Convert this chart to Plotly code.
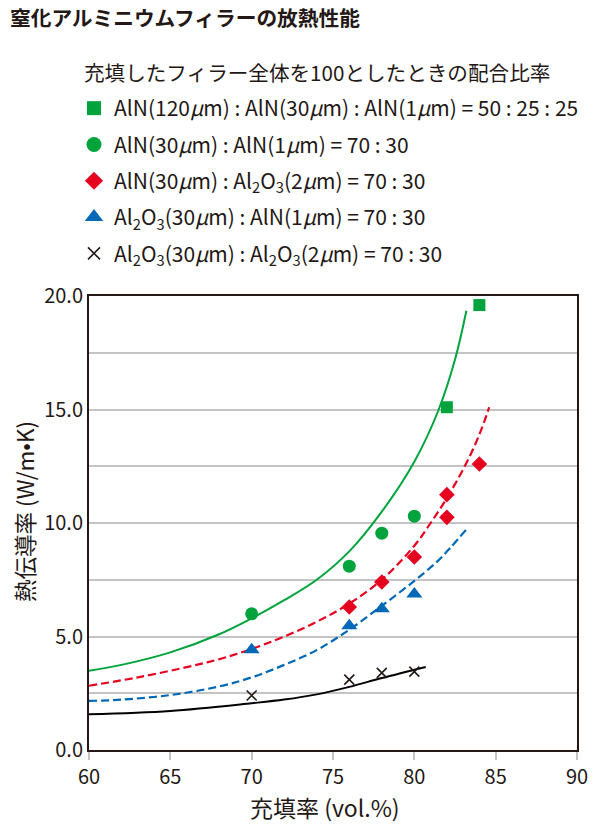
"""窒化アルミニウムフィラーの放熱性能 - Plotly."""

import plotly.graph_objects as go

# Paleta de cores
VERDE = "#00a33c"
VERMELHO = "#e60020"
AZUL = "#0068b7"
PRETO = "#231815"
CINZA = "#c4c4c4"
FONTE = "Noto Sans CJK JP"

# Pontos medidos (充填率 vol.%, 熱伝導率 W/m·K)
sq_x = [82, 84]
sq_y = [15.1, 19.6]
ci_x = [70, 76, 78, 80]
ci_y = [6.0, 8.1, 9.55, 10.3]
di_x = [76, 78, 80, 82, 82, 84]
di_y = [6.3, 7.4, 8.5, 10.25, 11.25, 12.6]
tr_x = [70, 76, 78, 80]
tr_y = [4.42, 5.47, 6.22, 6.87]
cx_x = [70, 76, 78, 80]
cx_y = [2.4, 3.1, 3.4, 3.45]

# Curvas de tendência
verde_x = [60, 62, 65, 68, 70, 72, 74, 76, 78, 80, 81.5, 82.5, 83.2]
verde_y = [3.49, 3.75, 4.3, 5.1, 5.8, 6.6, 7.5, 8.75, 10.5, 12.7, 15.0, 17.2, 19.35]
verm_x = [60, 63, 66, 68, 70, 72, 74, 76, 78, 80, 81, 82, 83.1, 84, 84.6]
verm_y = [2.83, 3.2, 3.65, 4.0, 4.45, 5.0, 5.65, 6.45, 7.5, 9.0, 10.0, 11.1, 12.5, 13.9, 15.1]
azul_x = [60, 62, 65, 68, 70, 72, 74, 76, 78, 80, 81.4, 82.2, 83.2]
azul_y = [2.16, 2.22, 2.42, 2.8, 3.2, 3.75, 4.4, 5.3, 6.35, 7.45, 8.3, 8.9, 9.72]
preto_x = [60, 65, 70, 72, 74, 76, 78, 80.7]
preto_y = [1.57, 1.72, 2.06, 2.22, 2.45, 2.78, 3.17, 3.66]

AL2O3 = "Al<sub>2</sub>O<sub>3</sub>"
MU = "<i>μ</i>m"
nomes = [
    f"AlN(120{MU}) : AlN(30{MU}) : AlN(1{MU}) = 50 : 25 : 25",
    f"AlN(30{MU}) : AlN(1{MU}) = 70 : 30",
    f"AlN(30{MU}) : {AL2O3}(2{MU}) = 70 : 30",
    f"{AL2O3}(30{MU}) : AlN(1{MU}) = 70 : 30",
    f"{AL2O3}(30{MU}) : {AL2O3}(2{MU}) = 70 : 30",
]

# A página tem margem de 8 px no body: a figura fica em (8, 8)
W, H = 584, 815

fig = go.Figure()

curvas = [
    (verde_x, verde_y, VERDE, "solid", 2),
    (verm_x, verm_y, VERMELHO, "8px,4px", 2.2),
    (azul_x, azul_y, AZUL, "8px,4px", 2.2),
    (preto_x, preto_y, "#000000", "solid", 2),
]
for cx, cy, cor, dash, w in curvas:
    fig.add_trace(go.Scatter(
        x=cx, y=cy, mode="lines", showlegend=False, hoverinfo="skip",
        line=dict(color=cor, width=w, dash=dash, shape="spline", smoothing=1),
    ))

# (x, y, símbolo, tamanho no gráfico, tamanho na legenda, cor)
series = [
    (sq_x, sq_y, "square", 12, 14, VERDE),
    (ci_x, ci_y, "circle", 13, 15, VERDE),
    (di_x, di_y, "diamond", 12, 14, VERMELHO),
    (tr_x, tr_y, "triangle-up", 14, 16, AZUL),
    (cx_x, cx_y, "x-thin", 10, 12, PRETO),
]
for i, (sx, sy, simb, tam, tam_leg, cor) in enumerate(series):
    lw = 1.6 if simb == "x-thin" else 0
    fig.add_trace(go.Scatter(
        x=sx, y=sy, mode="markers", showlegend=False,
        marker=dict(symbol=simb, size=tam, color=cor, line=dict(color=cor, width=lw)),
    ))
    # entrada só para a legenda (marcador um pouco maior)
    fig.add_trace(go.Scatter(
        x=[None], y=[None], mode="markers", name=nomes[i], legendgroup=f"g{i}",
        marker=dict(symbol=simb, size=tam_leg, color=cor, line=dict(color=cor, width=lw)),
    ))

fig.update_layout(
    width=W, height=H,
    margin=dict(l=81, r=15, t=288, b=73, autoexpand=False),
    paper_bgcolor="white", plot_bgcolor="white",
    font=dict(family=FONTE, color=PRETO, size=20),
    title=dict(
        text="<b>窒化アルミニウムフィラーの放熱性能</b>",
        font=dict(size=20.7, color=PRETO),
        xref="container", yref="container", x=2 / W, y=1 - 11 / H,
        xanchor="left", yanchor="middle",
    ),
    legend=dict(
        xref="container", yref="container", x=66 / W, y=1 - 80 / H,
        xanchor="left", yanchor="top", traceorder="grouped",
        tracegroupgap=6, itemwidth=30, font=dict(size=21),
        bgcolor="rgba(0,0,0,0)",
    ),
    annotations=[
        dict(
            text="充填したフィラー全体を100としたときの配合比率",
            xref="paper", yref="paper", x=(82 - 89) / 488, y=(750 - 72) / 454,
            xanchor="left", yanchor="middle", showarrow=False,
            font=dict(size=20.6, color=PRETO),
        ),
        dict(
            text="充填率 (vol.%)",
            xref="paper", yref="paper", x=(325 - 89) / 488, y=(750 - 807) / 454,
            xanchor="center", yanchor="middle", showarrow=False,
            font=dict(size=23, color=PRETO),
        ),
        dict(
            text="熱伝導率 (W/m•K)",
            xref="paper", yref="paper", x=(24 - 89) / 488, y=(750 - 512) / 454,
            xanchor="center", yanchor="middle", showarrow=False, textangle=-90,
            font=dict(size=22.5, color=PRETO),
        ),
    ],
)
fig.update_xaxes(
    range=[60, 90], dtick=5, showgrid=False, zeroline=False,
    showline=True, linecolor=PRETO, linewidth=2, mirror=True,
    ticks="outside", ticklen=8, tickcolor=CINZA, tickwidth=1.5,
    tickfont=dict(size=20), automargin=False,
)
fig.update_yaxes(
    range=[0, 20], dtick=5, tickformat=".1f", zeroline=False,
    showgrid=True, gridcolor=CINZA, gridwidth=1.5,
    minor=dict(dtick=2.5, showgrid=True, gridcolor=CINZA, gridwidth=1.5),
    showline=True, linecolor=PRETO, linewidth=2, mirror=True,
    ticks="", tickfont=dict(size=20), automargin=False,
)

fig.write_html("out.html")
